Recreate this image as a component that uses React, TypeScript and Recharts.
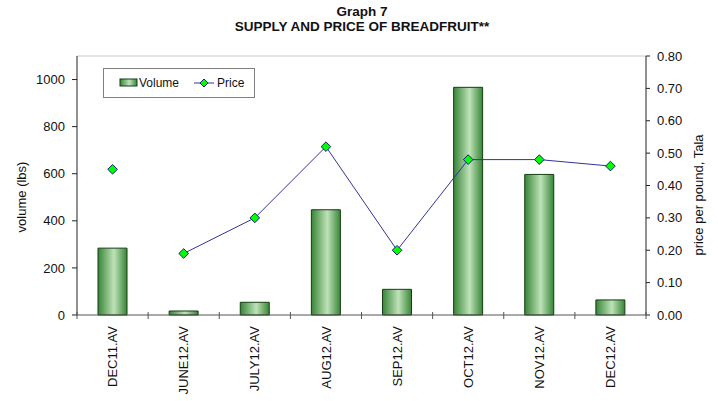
import { ComposedChart, Bar, Line, XAxis, YAxis, ReferenceLine } from 'recharts';

const months = ['DEC11.AV', 'JUNE12.AV', 'JULY12.AV', 'AUG12.AV', 'SEP12.AV', 'OCT12.AV', 'NOV12.AV', 'DEC12.AV'];
const volume = [284, 17, 54, 447, 109, 967, 597, 64];
const price = [0.45, 0.19, 0.3, 0.52, 0.2, 0.48, 0.48, 0.46];
// the first price point stands apart in the original, not joined to the line
const priceGapAfter = 0;

const volumeTicks = [0, 200, 400, 600, 800, 1000];
const priceTicks = [0, 0.1, 0.2, 0.3, 0.4, 0.5, 0.6, 0.7, 0.8];

const data = months.map((m, i) => ({
  month: m,
  volume: volume[i],
  price: i > priceGapAfter ? price[i] : null,
  priceSolo: i <= priceGapAfter ? price[i] : null,
}));

const FONT = 'Liberation Sans, Arial, sans-serif';

function Diamond(props: any) {
  const { cx, cy, value } = props;
  if (value == null || cx == null || cy == null) return null;
  const r = 4.8;
  return (
    <polygon
      points={`${cx},${cy - r} ${cx + r},${cy} ${cx},${cy + r} ${cx - r},${cy}`}
      fill="#00ff00"
      stroke="#1c1c80"
      strokeWidth={1}
    />
  );
}

function MonthTick(props: any) {
  const { x, y, payload, index, visibleTicksCount } = props;
  const half = payload && payload.offset ? payload.offset : 35.5;
  const last = index === visibleTicksCount - 1;
  return (
    <g>
      <line x1={x - half} x2={x - half} y1={y - 3} y2={y + 4} stroke="#555" />
      {last && <line x1={x + half} x2={x + half} y1={y - 3} y2={y + 4} stroke="#555" />}
      <text
        x={x}
        y={y + 11}
        transform={`rotate(-90 ${x} ${y + 11})`}
        textAnchor="end"
        dy="0.36em"
        fontSize={13}
        fontFamily={FONT}
        fill="#111"
      >
        {payload.value}
      </text>
    </g>
  );
}

export default function App() {
  return (
    <div style={{ position: 'absolute', left: 0, top: 0, width: 718, height: 401, background: '#fff', fontFamily: FONT }}>
      <div style={{ position: 'absolute', left: 0, width: 724, top: 4, textAlign: 'center', fontWeight: 'bold', fontSize: 13.5, lineHeight: '15px', color: '#111' }}>
        <div>Graph 7</div>
        <div>SUPPLY AND PRICE OF BREADFRUIT**</div>
      </div>
      <ComposedChart
        width={718}
        height={401}
        data={data}
        margin={{ top: 56, right: 0, left: 0, bottom: 6 }}
      >
        <defs>
          <linearGradient id="barFill" x1="0" y1="0" x2="1" y2="0">
            <stop offset="0%" stopColor="#378537" />
            <stop offset="55%" stopColor="#bfe2b8" />
            <stop offset="100%" stopColor="#378537" />
          </linearGradient>
        </defs>
        <XAxis
          dataKey="month"
          height={80}
          interval={0}
          tickLine={false}
          tickSize={0}
          tickMargin={0}
          axisLine={{ stroke: '#555' }}
          tick={<MonthTick />}
        />
        <YAxis
          yAxisId="vol"
          width={77}
          domain={[0, 1100]}
          ticks={volumeTicks}
          tickSize={5}
          tickMargin={7}
          axisLine={{ stroke: '#222' }}
          tickLine={{ stroke: '#222' }}
          tick={{ fontSize: 13, fontFamily: FONT, fill: '#111' }}
          label={{
            content: () => (
              <text x={21} y={197} transform="rotate(-90 21 197)" textAnchor="middle" dy="0.35em" fontSize={13} fontFamily={FONT} fill="#111">
                volume (lbs)
              </text>
            ),
          }}
        />
        <YAxis
          yAxisId="price"
          orientation="right"
          width={72}
          domain={[0, 0.8]}
          ticks={priceTicks}
          tickFormatter={(v: number) => v.toFixed(2)}
          tickSize={4}
          tickMargin={7}
          axisLine={{ stroke: '#222' }}
          tickLine={{ stroke: '#222' }}
          tick={{ fontSize: 13, fontFamily: FONT, fill: '#111', textAnchor: 'start' }}
          label={{
            content: () => (
              <text x={698} y={195} transform="rotate(-90 698 195)" textAnchor="middle" dy="0.35em" fontSize={13} fontFamily={FONT} fill="#111">
                price per pound, Tala
              </text>
            ),
          }}
        />
        <ReferenceLine yAxisId="vol" y={1100} stroke="#c8c8c8" />
        <Bar
          yAxisId="vol"
          dataKey="volume"
          barSize={29}
          fill="url(#barFill)"
          stroke="#123f12"
          strokeWidth={1}
          isAnimationActive={false}
        />
        <Line
          yAxisId="price"
          dataKey="price"
          stroke="#333399"
          strokeWidth={1}
          dot={<Diamond />}
          activeDot={false}
          connectNulls={false}
          isAnimationActive={false}
        />
        <Line
          yAxisId="price"
          dataKey="priceSolo"
          stroke="none"
          dot={<Diamond />}
          activeDot={false}
          legendType="none"
          isAnimationActive={false}
        />
      </ComposedChart>
      <div style={{ position: 'absolute', left: 103, top: 68, width: 150, height: 28, border: '1px solid #808080', background: '#fff', display: 'flex', alignItems: 'center', fontSize: 12, color: '#111' }}>
        <svg width={20} height={10} style={{ marginLeft: 15 }}>
          <defs>
            <linearGradient id="legFill" x1="0" y1="0" x2="1" y2="0">
              <stop offset="0%" stopColor="#378537" />
              <stop offset="55%" stopColor="#bfe2b8" />
              <stop offset="100%" stopColor="#378537" />
            </linearGradient>
          </defs>
          <rect x={1} y={1} width={17} height={7} fill="url(#legFill)" stroke="#123f12" />
        </svg>
        <span>Volume</span>
        <svg width={22} height={12} style={{ marginLeft: 15 }}>
          <line x1={0} x2={20} y1={6} y2={6} stroke="#333399" />
          <polygon points="10,2 14,6 10,10 6,6" fill="#00ff00" stroke="#1c1c80" />
        </svg>
        <span style={{ marginLeft: 1 }}>Price</span>
      </div>
    </div>
  );
}
